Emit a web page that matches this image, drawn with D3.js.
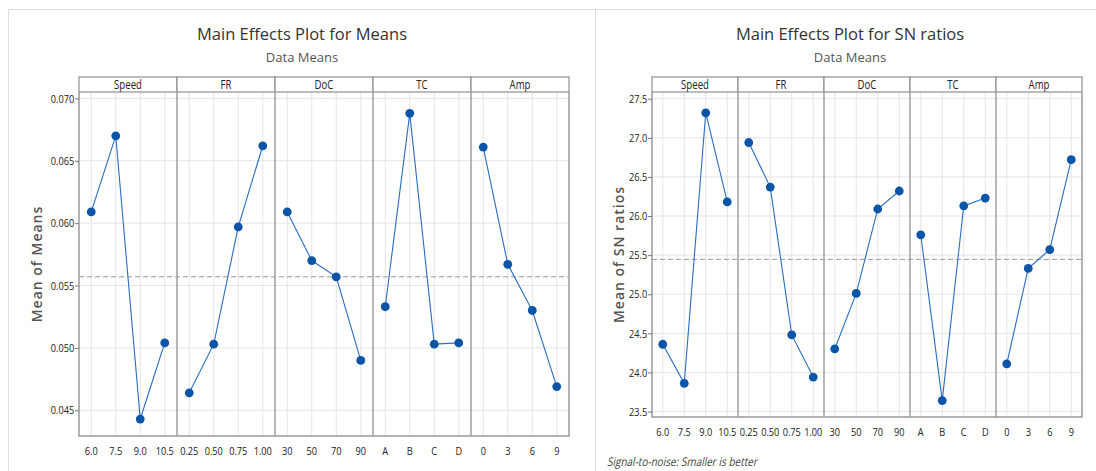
<!DOCTYPE html>
<html>
<head>
<meta charset="utf-8">
<style type="text/css">
body { margin: 0; background: #fff; }
svg { display: block; }
.title { font-family: "Open Sans", sans-serif; fill: #333; }
.tick text, .lvl, .strip-label { font-family: "Open Sans", sans-serif; fill: #222; }
.ylab { font-family: "Open Sans", sans-serif; font-weight: 600; fill: #555; }
.grid { stroke: #e4e4e4; stroke-width: 1; }
.divider { stroke: #a0a0a0; stroke-width: 1.5; }
.effect { fill: none; stroke: #2a6cc0; stroke-width: 1.1; }
.dot { fill: #0a55a8; }
.grand { stroke: #9a9a9a; stroke-width: 1; stroke-dasharray: 5,3; }
.frame { stroke: #dcdcdc; stroke-width: 1; fill: none; }
</style>
<script src="https://d3js.org/d3.v7.min.js"></script>
</head>
<body>
<script type="text/javascript">
var width  = 1096;
var height = 471;
var squeeze = 0.8; // small labels are narrow in the original

// factors and their levels (shared by both plots)
var factors = ["Speed", "FR", "DoC", "TC", "Amp"];
var levels = [
	["6.0", "7.5", "9.0", "10.5"],
	["0.25", "0.50", "0.75", "1.00"],
	["30", "50", "70", "90"],
	["A", "B", "C", "D"],
	["0", "3", "6", "9"]
];

// Main Effects Plot for Means
var meansValues = [
	[0.0609, 0.0670, 0.0443, 0.0504],
	[0.0464, 0.0503, 0.0597, 0.0662],
	[0.0609, 0.0570, 0.0557, 0.0490],
	[0.0533, 0.0688, 0.0503, 0.0504],
	[0.0661, 0.0567, 0.0530, 0.0469]
];
var meansTicks = [0.045, 0.050, 0.055, 0.060, 0.065, 0.070];
var meansGrand = 0.0557;

// Main Effects Plot for SN ratios
var snValues = [
	[24.36, 23.86, 27.32, 26.18],
	[26.94, 26.37, 24.48, 23.94],
	[24.30, 25.01, 26.09, 26.32],
	[25.76, 23.64, 26.13, 26.23],
	[24.11, 25.33, 25.57, 26.72]
];
var snTicks = [23.5, 24.0, 24.5, 25.0, 25.5, 26.0, 26.5, 27.0, 27.5];
var snGrand = 25.445;

var svg = d3.select("body").append("svg").attr("width", width).attr("height", height);

// outer frames of the two screenshots
svg.append("path").attr("class", "frame")
	.attr("d", "M8.5," + height + "V9.5H" + width + "M595.5,9.5V" + height);

function drawPlot(o) {
	var g = svg.append("g");
	var y = d3.scaleLinear().domain(o.ydom).range([o.bottom, o.top]);
	var pw = (o.right - o.left) / factors.length;

	// title block
	g.append("text").attr("class", "title").attr("x", o.cx).attr("y", 40)
		.attr("text-anchor", "middle").style("font-size", "16.5px").text(o.title);
	g.append("text").attr("class", "title").attr("x", o.cx).attr("y", 62)
		.attr("text-anchor", "middle").style("font-size", "13px").style("fill", "#555").text("Data Means");

	// y axis label
	g.append("text").attr("class", "ylab")
		.attr("transform", "translate(" + o.ylabX + "," + ((o.top + o.bottom) / 2) + ") rotate(-90)")
		.attr("text-anchor", "middle").style("font-size", "14px").style("letter-spacing", "1px").text(o.ylab);

	// horizontal gridlines
	g.selectAll(".hgrid").data(o.ticks).enter().append("line")
		.attr("class", "grid")
		.attr("x1", o.left).attr("x2", o.right)
		.attr("y1", function(d) { return y(d); }).attr("y2", function(d) { return y(d); });

	factors.forEach(function(f, i) {
		var x0 = o.left + i * pw;
		var x = d3.scalePoint().domain(levels[i]).range([x0, x0 + pw]).padding(0.5);
		var vals = o.values[i].map(function(v, j) { return { lvl: levels[i][j], v: v }; });

		g.selectAll(".vg" + i).data(levels[i]).enter().append("line")
			.attr("class", "grid")
			.attr("x1", function(d) { return x(d); }).attr("x2", function(d) { return x(d); })
			.attr("y1", o.top).attr("y2", o.bottom);

		// strip header
		g.append("rect").attr("x", x0).attr("y", o.stripTop)
			.attr("width", pw).attr("height", o.top - o.stripTop)
			.attr("fill", "#fff").attr("stroke", "#8f8f8f").attr("stroke-width", 1.2);
		g.append("text").attr("class", "strip-label")
			.attr("transform", "translate(" + (x0 + pw / 2) + "," + (o.top - 3) + ") scale(" + squeeze + ",1)")
			.attr("text-anchor", "middle").style("font-size", "12px").text(f);

		// level labels
		g.selectAll(".lv" + i).data(levels[i]).enter().append("text")
			.attr("class", "lvl")
			.attr("transform", function(d) { return "translate(" + x(d) + "," + (o.bottom + 19) + ") scale(" + squeeze + ",1)"; })
			.attr("text-anchor", "middle").style("font-size", "11.5px")
			.text(function(d) { return d; });

		if (i > 0) {
			g.append("line").attr("class", "divider")
				.attr("x1", x0).attr("x2", x0).attr("y1", o.top).attr("y2", o.bottom);
		}

		var line = d3.line()
			.x(function(d) { return x(d.lvl); })
			.y(function(d) { return y(d.v); });
		o.lines.push({ data: vals, line: line });
	});

	// grand mean reference line
	g.append("line").attr("class", "grand")
		.attr("x1", o.left).attr("x2", o.right)
		.attr("y1", y(o.grand)).attr("y2", y(o.grand));

	o.lines.forEach(function(l) {
		g.append("path").datum(l.data).attr("class", "effect").attr("d", l.line);
		g.selectAll(null).data(l.data).enter().append("circle")
			.attr("class", "dot").attr("r", 4.4)
			.attr("cx", function(d) { return l.line.x()(d); })
			.attr("cy", function(d) { return y(d.v); });
	});

	// plot frame
	g.append("path").attr("fill", "none").attr("stroke", "#9a9a9a").attr("stroke-width", 1.5)
		.attr("d", "M" + o.left + "," + o.top + "V" + o.bottom + "H" + o.right + "V" + o.top);

	// y axis
	var yAxis = d3.axisLeft(y).tickValues(o.ticks).tickFormat(o.fmt).tickSize(4).tickPadding(2);
	var ax = g.append("g").attr("transform", "translate(" + o.left + ",0)").call(yAxis);
	ax.select(".domain").remove();
	ax.selectAll(".tick line").attr("stroke", "#777");
	ax.selectAll(".tick text").style("font-size", "11.5px")
		.attr("transform", "scale(" + squeeze + ",1)");
}

drawPlot({
	title: "Main Effects Plot for Means", cx: 302, ylab: "Mean of Means", ylabX: 42,
	left: 79, right: 569, top: 92, bottom: 436, stripTop: 77,
	ydom: [0.04294, 0.07051], ticks: meansTicks, fmt: d3.format(".3f"),
	values: meansValues, grand: meansGrand, lines: []
});

drawPlot({
	title: "Main Effects Plot for SN ratios", cx: 850, ylab: "Mean of SN ratios", ylabX: 624,
	left: 652, right: 1082, top: 92, bottom: 417, stripTop: 77,
	ydom: [23.43, 27.586], ticks: snTicks, fmt: d3.format(".1f"),
	values: snValues, grand: snGrand, lines: []
});

// footnote, slanted by hand so it stays oblique whatever font is picked
svg.append("text").attr("transform", "translate(607,466) skewX(-12)")
	.attr("textLength", 150).attr("lengthAdjust", "spacingAndGlyphs")
	.style("font-family", "'Open Sans', sans-serif")
	.style("font-size", "12px").style("fill", "#444")
	.text("Signal-to-noise: Smaller is better");
</script>
</body>
</html>
